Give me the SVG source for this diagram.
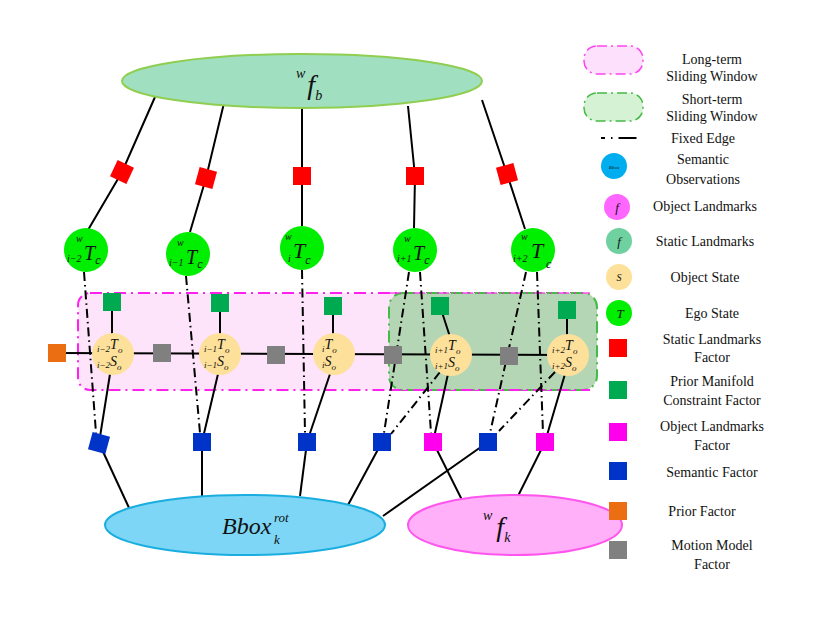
<svg xmlns="http://www.w3.org/2000/svg" width="831" height="620" viewBox="0 0 831 620" font-family="'Liberation Serif', serif">
<style>
text{font-family:'Liberation Serif','Times New Roman',serif;fill:#111}
.lg{font-size:14px;text-anchor:middle}
.m{font-style:italic}
.s{stroke:#000;stroke-width:2;fill:none}
.d{stroke:#000;stroke-width:2;fill:none;stroke-dasharray:9 4 1.5 4}
.ego{fill:#00ee00}
.obj{fill:#fde09a}
.red{fill:#f00}.grn{fill:#00aa50}.gry{fill:#808080}.blu{fill:#0033c8}.mag{fill:#ff00ee}.org{fill:#ec6e12}
</style>
<rect width="831" height="620" fill="#fff"/>
<g id="windows">
<rect x="78" y="293" width="512" height="97" rx="12" fill="#fde4fb" stroke="#ff22ee" stroke-width="2" stroke-dasharray="12 5 2 5"/>
<rect x="389" y="293" width="208" height="97" rx="14" fill="#b5d6b5" stroke="#44bb44" stroke-width="2" stroke-dasharray="12 5 2 5"/>
<line x1="389" y1="390" x2="590" y2="390" stroke="#ff22ee" stroke-width="2" stroke-dasharray="12 5 2 5"/>
<line x1="389" y1="293" x2="590" y2="293" stroke="#ff22ee" stroke-width="2" stroke-dasharray="12 5 2 5" opacity="0.6"/>
</g>
<g id="connectors">
<polyline class="s" points="155,97 122,172 88,230"/>
<polyline class="s" points="224,103 206,178 190,232"/>
<polyline class="s" points="302,108 302,176 302,226"/>
<polyline class="s" points="408,106 415,176 414,228"/>
<polyline class="s" points="482,100 507,174 525,229"/>
<line class="d" x1="84" y1="272" x2="96" y2="433"/>
<line class="d" x1="186" y1="276" x2="200" y2="433"/>
<line class="d" x1="302" y1="270" x2="305" y2="433"/>
<line class="d" x1="409" y1="272" x2="384" y2="433"/>
<line class="d" x1="420" y1="272" x2="431" y2="433"/>
<line class="d" x1="526" y1="272" x2="490" y2="433"/>
<line class="d" x1="537" y1="272" x2="543" y2="433"/>
<line class="d" x1="440" y1="372" x2="391" y2="434"/>
<line class="d" x1="555" y1="372" x2="499" y2="431"/>
<line class="s" x1="57" y1="353" x2="568" y2="355"/>
<line class="s" x1="112" y1="302" x2="112" y2="340"/>
<line class="s" x1="220" y1="303" x2="220" y2="340"/>
<line class="s" x1="333" y1="306" x2="333" y2="340"/>
<line class="s" x1="440" y1="306" x2="451" y2="340"/>
<line class="s" x1="567" y1="310" x2="567" y2="340"/>
<line class="s" x1="110" y1="374" x2="99" y2="443"/>
<line class="s" x1="218" y1="374" x2="202" y2="442"/>
<line class="s" x1="330" y1="374" x2="307" y2="442"/>
<line class="s" x1="448" y1="374" x2="433" y2="442"/>
<line class="s" x1="565" y1="374" x2="545" y2="442"/>
<line class="s" x1="99" y1="443" x2="130" y2="510"/>
<line class="s" x1="202" y1="442" x2="202" y2="498"/>
<line class="s" x1="307" y1="442" x2="300" y2="496"/>
<line class="s" x1="382" y1="442" x2="348" y2="505"/>
<line class="s" x1="488" y1="442" x2="383" y2="516"/>
<line class="s" x1="433" y1="442" x2="463" y2="502"/>
<line class="s" x1="545" y1="442" x2="517" y2="498"/>
</g>
<g id="fb"><ellipse cx="302" cy="81" rx="180" ry="27" fill="#a0e0c0" stroke="#8fce50" stroke-width="2"/>
<text x="296" y="94" font-size="28" class="m"><tspan font-size="14" dy="-16">w</tspan><tspan dy="16" dx="2">f</tspan><tspan font-size="14" dy="6">b</tspan></text></g>
<g id="bbox"><ellipse cx="245" cy="525" rx="140" ry="30" fill="#7dd6f5" stroke="#1aaee0" stroke-width="2"/>
<text x="222" y="534" font-size="24" class="m">Bbox</text><text x="274" y="522" font-size="13" class="m">rot</text><text x="274" y="544" font-size="13" class="m">k</text></g>
<g id="fk"><ellipse cx="515" cy="525" rx="107" ry="30" fill="#ffb0f8" stroke="#ff55ee" stroke-width="2"/>
<text x="483" y="536" font-size="28" class="m"><tspan font-size="14" dy="-16">w</tspan><tspan dy="16" dx="4">f</tspan><tspan font-size="14" dy="6">k</tspan></text></g>
<g id="red-factors">
<rect class="red" x="113" y="163" width="18" height="18" transform="rotate(25 122 172)"/>
<rect class="red" x="197" y="169" width="18" height="18" transform="rotate(15 206 178)"/>
<rect class="red" x="293" y="167" width="18" height="18"/>
<rect class="red" x="406" y="167" width="18" height="18"/>
<rect class="red" x="498" y="165" width="18" height="18" transform="rotate(-15 507 174)"/>
</g>
<g id="ego">
<circle class="ego" cx="86" cy="250" r="22"/><text x="67" y="262" font-size="10" class="m">i−2</text><text x="84" y="260" font-size="20" class="m">T<tspan font-size="12" dy="4">c</tspan></text><text x="76" y="242" font-size="10" class="m">w</text>
<circle class="ego" cx="188" cy="254" r="22"/><text x="169" y="266" font-size="10" class="m">i−1</text><text x="186" y="264" font-size="20" class="m">T<tspan font-size="12" dy="4">c</tspan></text><text x="177" y="246" font-size="10" class="m">w</text>
<circle class="ego" cx="302" cy="248" r="22"/><text x="288" y="262" font-size="10" class="m">i</text><text x="293" y="258" font-size="22" class="m">T<tspan font-size="12" dy="6">c</tspan></text><text x="285" y="240" font-size="10" class="m">w</text>
<circle class="ego" cx="415" cy="250" r="22"/><text x="397" y="262" font-size="10" class="m">i+1</text><text x="413" y="260" font-size="20" class="m">T<tspan font-size="12" dy="4">c</tspan></text><text x="404" y="242" font-size="10" class="m">w</text>
<circle class="ego" cx="533" cy="250" r="22"/><text x="513" y="262" font-size="10" class="m">i+2</text><text x="531" y="258" font-size="22" class="m">T</text><text x="546" y="268" font-size="12" class="m">c</text><text x="521" y="240" font-size="10" class="m">w</text>
</g>
<g id="prior-manifold">
<rect class="grn" x="103" y="293" width="18" height="18"/>
<rect class="grn" x="211" y="294" width="18" height="18"/>
<rect class="grn" x="324" y="297" width="18" height="18"/>
<rect class="grn" x="431" y="297" width="18" height="18"/>
<rect class="grn" x="558" y="301" width="18" height="18"/>
</g>
<g id="motion">
<rect class="org" x="48" y="344" width="18" height="18"/>
<rect class="gry" x="153" y="344" width="18" height="18"/>
<rect class="gry" x="267" y="346" width="18" height="18"/>
<rect class="gry" x="384" y="346" width="18" height="18"/>
<rect class="gry" x="500" y="347" width="18" height="18"/>
</g>
<g id="objects" font-size="9">
<circle class="obj" cx="113" cy="354" r="21"/><text x="97" y="352" class="m" font-size="9">i−2<tspan font-size="14" dy="-3">T</tspan><tspan dy="4">o</tspan></text><text x="97" y="368" class="m" font-size="9">i−2<tspan font-size="14" dy="-2">S</tspan><tspan dy="4">o</tspan></text>
<circle class="obj" cx="220" cy="354" r="21"/><text x="204" y="352" class="m" font-size="9">i−1<tspan font-size="14" dy="-3">T</tspan><tspan dy="4">o</tspan></text><text x="204" y="368" class="m" font-size="9">i−1<tspan font-size="14" dy="-2">S</tspan><tspan dy="4">o</tspan></text>
<circle class="obj" cx="334" cy="354" r="21"/><text x="322" y="352" class="m" font-size="9">i<tspan font-size="14" dy="-3">T</tspan><tspan dy="4">o</tspan></text><text x="322" y="368" class="m" font-size="9">i<tspan font-size="14" dy="-2">S</tspan><tspan dy="4">o</tspan></text>
<circle class="obj" cx="451" cy="355" r="21"/><text x="435" y="353" class="m" font-size="9">i+1<tspan font-size="14" dy="-3">T</tspan><tspan dy="4">o</tspan></text><text x="435" y="369" class="m" font-size="9">i+1<tspan font-size="14" dy="-2">S</tspan><tspan dy="4">o</tspan></text>
<circle class="obj" cx="568" cy="355" r="21"/><text x="552" y="353" class="m" font-size="9">i+2<tspan font-size="14" dy="-3">T</tspan><tspan dy="4">o</tspan></text><text x="552" y="369" class="m" font-size="9">i+2<tspan font-size="14" dy="-2">S</tspan><tspan dy="4">o</tspan></text>
</g>
<g id="semantic">
<rect class="blu" x="90" y="434" width="18" height="18" transform="rotate(15 99 443)"/>
<rect class="blu" x="193" y="433" width="18" height="18"/>
<rect class="blu" x="298" y="433" width="18" height="18"/>
<rect class="blu" x="373" y="433" width="18" height="18"/>
<rect class="mag" x="424" y="433" width="18" height="18"/>
<rect class="blu" x="479" y="433" width="18" height="18"/>
<rect class="mag" x="536" y="433" width="18" height="18"/>
</g>
<g id="legend" class="lg">
<rect x="584" y="46" width="59" height="28" rx="13" fill="#fde0fb" stroke="#ff44ee" stroke-width="1.5" stroke-dasharray="10 4 2 4"/>
<text x="712" y="64">Long-term</text><text x="712" y="81">Sliding Window</text>
<rect x="584" y="93" width="59" height="28" rx="13" fill="#d5f2d5" stroke="#44bb44" stroke-width="1.5" stroke-dasharray="10 4 2 4"/>
<text x="712" y="104">Short-term</text><text x="712" y="121">Sliding Window</text>
<line x1="601" y1="138" x2="640" y2="138" stroke="#000" stroke-width="2" stroke-dasharray="4 6 1.5 6 14 0"/>
<text x="703" y="143">Fixed Edge</text>
<circle cx="614" cy="166" r="13" fill="#00aeef"/><text x="614" y="169" font-size="5" class="m">Bbox</text>
<text x="703" y="164">Semantic</text><text x="703" y="184">Observations</text>
<circle cx="617" cy="207" r="13" fill="#ff66ff"/><text x="617" y="212" font-size="13" class="m">f</text>
<text x="705" y="211">Object Landmarks</text>
<circle cx="619" cy="241" r="13" fill="#6fd0a0"/><text x="619" y="246" font-size="13" class="m">f</text>
<text x="705" y="246">Static Landmarks</text>
<circle cx="619" cy="277" r="13" fill="#fde09a"/><text x="619" y="281" font-size="10" class="m">S</text>
<text x="705" y="282">Object State</text>
<circle cx="619" cy="313" r="13" fill="#00ee00"/><text x="620" y="318" font-size="13" class="m">T</text>
<text x="712" y="318">Ego State</text>
<rect class="red" x="609" y="339" width="18" height="18"/><text x="712" y="344">Static Landmarks</text><text x="712" y="362">Factor</text>
<rect class="grn" x="609" y="381" width="18" height="18"/><text x="712" y="386">Prior Manifold</text><text x="712" y="405">Constraint Factor</text>
<rect class="mag" x="609" y="423" width="18" height="18"/><text x="712" y="431">Object Landmarks</text><text x="712" y="450">Factor</text>
<rect class="blu" x="609" y="462" width="18" height="18"/><text x="712" y="477">Semantic Factor</text>
<rect class="org" x="609" y="502" width="18" height="18"/><text x="702" y="516">Prior Factor</text>
<rect class="gry" x="609" y="541" width="18" height="18"/><text x="712" y="550">Motion Model</text><text x="712" y="569">Factor</text>
</g>
</svg>
